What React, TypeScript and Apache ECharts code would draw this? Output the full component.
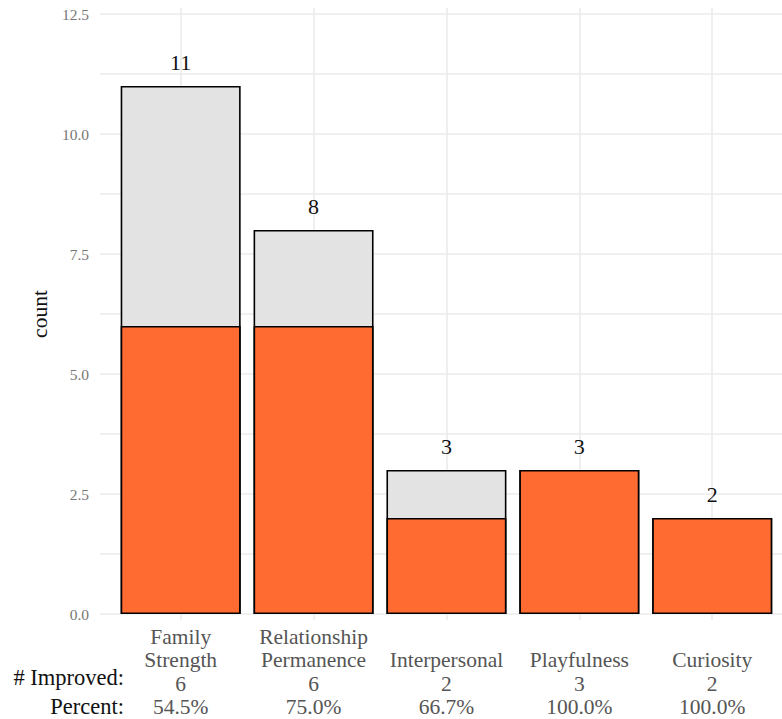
import React, { useEffect, useRef } from "react";
import * as echarts from "echarts";

const categories = ["Family\nStrength", "Relationship\nPermanence", "Interpersonal", "Playfulness", "Curiosity"];
const totals = [11, 8, 3, 3, 2];
const improved = [6, 6, 2, 3, 2];
const percentLabels = ["54.5%", "75.0%", "66.7%", "100.0%", "100.0%"];
const yLabelTicks = [0, 2.5, 5, 7.5, 10, 12.5];
const yGridTicks = [0, 1.25, 2.5, 3.75, 5, 6.25, 7.5, 8.75, 10, 11.25, 12.5];
const positions = [1, 2, 3, 4, 5];

const FONT = "'Liberation Serif', 'DejaVu Serif', serif";

export default function App() {
  const ref = useRef<HTMLDivElement>(null);
  useEffect(() => {
    if (!ref.current) return;
    const chart = echarts.init(ref.current, undefined, { renderer: "svg" });
    const option = {
      animation: false,
      textStyle: { fontFamily: FONT },
      grid: { left: 100, right: 0, top: 8, bottom: 99, containLabel: false },
      xAxis: {
        type: "value",
        min: 0.393,
        max: 5.525,
        axisLine: { show: false },
        axisTick: { show: false, customValues: positions },
        splitLine: { show: true, lineStyle: { color: "#ebebeb", width: 1.6 } },
        axisLabel: {
          customValues: positions,
          margin: 5,
          color: "#555555",
          fontFamily: FONT,
          fontSize: 21.5,
          lineHeight: 23.5,
          align: "center",
          formatter: (v: number) => {
            const i = Math.round(v) - 1;
            if (i < 0 || i >= categories.length) return "";
            const name = categories[i].includes("\n") ? categories[i] : "\n" + categories[i];
            return name + "\n" + improved[i] + "\n" + percentLabels[i];
          },
        },
      },
      yAxis: {
        type: "value",
        min: -0.125,
        max: 12.625,
        name: "count",
        nameLocation: "middle",
        nameGap: 45,
        nameRotate: 90,
        nameTextStyle: { color: "#111", fontFamily: FONT, fontSize: 21.5 },
        axisLine: { show: false },
        axisTick: { show: false, customValues: yGridTicks },
        splitLine: { show: true, lineStyle: { color: "#ebebeb", width: 1.6 } },
        axisLabel: {
          customValues: yLabelTicks,
          margin: 11,
          color: "#777777",
          fontFamily: FONT,
          fontSize: 15.5,
          formatter: (v: number) => v.toFixed(1),
        },
      },
      graphic: [
        {
          type: "text",
          right: 658,
          top: 666,
          style: { text: "# Improved:", fill: "#111", font: "22.5px " + FONT, textAlign: "right" },
        },
        {
          type: "text",
          right: 658,
          top: 695,
          style: { text: "Percent:", fill: "#111", font: "22.5px " + FONT, textAlign: "right" },
        },
      ],
      series: [
        {
          type: "bar",
          name: "Total",
          barWidth: 120,
          barGap: "-100%",
          z: 1,
          data: positions.map((p, i) => [p, totals[i]]),
          itemStyle: { color: "#E3E3E3", borderColor: "#000", borderWidth: 1.6 },
          label: {
            show: true,
            position: "top",
            distance: 13,
            color: "#111",
            fontFamily: FONT,
            fontSize: 22,
            formatter: (p: any) => String(totals[p.dataIndex]),
          },
        },
        {
          type: "bar",
          name: "Improved",
          barWidth: 120,
          barGap: "-100%",
          z: 2,
          data: positions.map((p, i) => [p, improved[i]]),
          itemStyle: { color: "#FF6B30", borderColor: "#000", borderWidth: 1.6 },
        },
      ],
    };
    chart.setOption(option as any);
    return () => chart.dispose();
  }, []);
  return (
    <div
      ref={ref}
      style={{ position: "fixed", left: 0, top: 0, width: 782, height: 719, background: "#fff" }}
    />
  );
}
